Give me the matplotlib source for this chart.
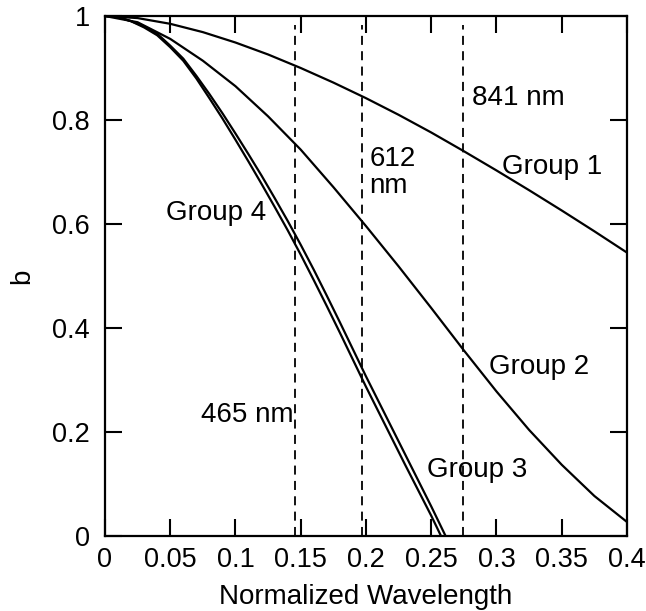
import matplotlib
matplotlib.use("Agg")
import matplotlib.pyplot as plt
from matplotlib.ticker import FormatStrFormatter

plt.rcParams['font.family'] = ['Liberation Sans', 'DejaVu Sans']

# curves
x_wide = [0, 0.025, 0.05, 0.075, 0.1, 0.125, 0.15, 0.175, 0.2, 0.225, 0.25, 0.275, 0.3, 0.325, 0.35, 0.375, 0.4]
b_group1 = [1.0, 0.996, 0.985, 0.969, 0.949, 0.926, 0.9, 0.872, 0.842, 0.81, 0.776, 0.74, 0.703, 0.665, 0.626, 0.586, 0.545]
b_group2 = [1.0, 0.988, 0.956, 0.914, 0.865, 0.807, 0.743, 0.671, 0.596, 0.5185, 0.4385, 0.357, 0.278, 0.204, 0.137, 0.077, 0.027]

x_group3 = [0, 0.01, 0.02, 0.03, 0.04, 0.05, 0.06, 0.07, 0.08, 0.09, 0.1, 0.11, 0.12, 0.13,
            0.14, 0.15, 0.16, 0.17, 0.18, 0.19, 0.2, 0.21, 0.22, 0.23, 0.24, 0.25, 0.261]
b_group3 = [1.0, 0.998, 0.99, 0.98, 0.966, 0.943, 0.918, 0.885, 0.85, 0.813, 0.774, 0.734, 0.693, 0.65,
            0.606, 0.56, 0.512, 0.462, 0.411, 0.359, 0.307, 0.257, 0.207, 0.157, 0.107, 0.057, 0.0]
x_group4 = [0, 0.01, 0.02, 0.03, 0.04, 0.05, 0.06, 0.07, 0.08, 0.09, 0.1, 0.11, 0.12, 0.13,
            0.14, 0.15, 0.16, 0.17, 0.18, 0.19, 0.2, 0.21, 0.22, 0.23, 0.24, 0.25, 0.2575]
b_group4 = [1.0, 0.998, 0.99, 0.978, 0.963, 0.94, 0.914, 0.88, 0.842, 0.803, 0.762, 0.72, 0.677, 0.633,
            0.588, 0.541, 0.492, 0.442, 0.391, 0.339, 0.287, 0.237, 0.187, 0.137, 0.088, 0.039, 0.0]

# wavelength markers
marker_x = [0.1456, 0.1967, 0.2745]

xticks = [0, 0.05, 0.1, 0.15, 0.2, 0.25, 0.3, 0.35, 0.4]
yticks = [0, 0.2, 0.4, 0.6, 0.8, 1]

fig = plt.figure(figsize=(6.46, 6.11), dpi=100)
ax = fig.add_axes([0.1625, 0.1227, 0.8081, 0.8511])

lw = 1.6
ax.plot(x_wide, b_group1, color='black', lw=lw)
ax.plot(x_wide, b_group2, color='black', lw=lw)
ax.plot(x_group3, b_group3, color='black', lw=lw)
ax.plot(x_group4, b_group4, color='black', lw=lw)

for mx in marker_x:
    ax.plot([mx, mx], [0, 0.982], color='black', lw=1.3, dashes=(5, 3.5))

fs = 20
ax.text(0.281, 0.842, '841 nm', fontsize=fs, va='center', ha='left')
ax.text(0.2025, 0.70, '612\nnm', fontsize=fs, va='center', ha='left', linespacing=1.05)
ax.text(0.304, 0.71, 'Group 1', fontsize=fs, va='center', ha='left')
ax.text(0.294, 0.326, 'Group 2', fontsize=fs, va='center', ha='left')
ax.text(0.2464, 0.127, 'Group 3', fontsize=fs, va='center', ha='left')
ax.text(0.0467, 0.621, 'Group 4', fontsize=fs, va='center', ha='left')
ax.text(0.1442, 0.233, '465 nm', fontsize=fs, va='center', ha='right')

ax.set_xlim(0, 0.4)
ax.set_ylim(0, 1)
ax.set_xticks(xticks)
ax.set_yticks(yticks)
ax.xaxis.set_major_formatter(FormatStrFormatter('%g'))
ax.yaxis.set_major_formatter(FormatStrFormatter('%g'))
ax.tick_params(direction='in', length=12, width=1.5, labelsize=19.5,
               top=True, right=True, color='black')
ax.tick_params(axis='x', pad=8)
ax.tick_params(axis='y', pad=11)
for s in ax.spines.values():
    s.set_linewidth(1.6)

ax.set_xlabel('Normalized Wavelength', fontsize=20, labelpad=8)
ax.set_ylabel('b', fontsize=20, labelpad=12)

fig.savefig('out.png', dpi=100)
